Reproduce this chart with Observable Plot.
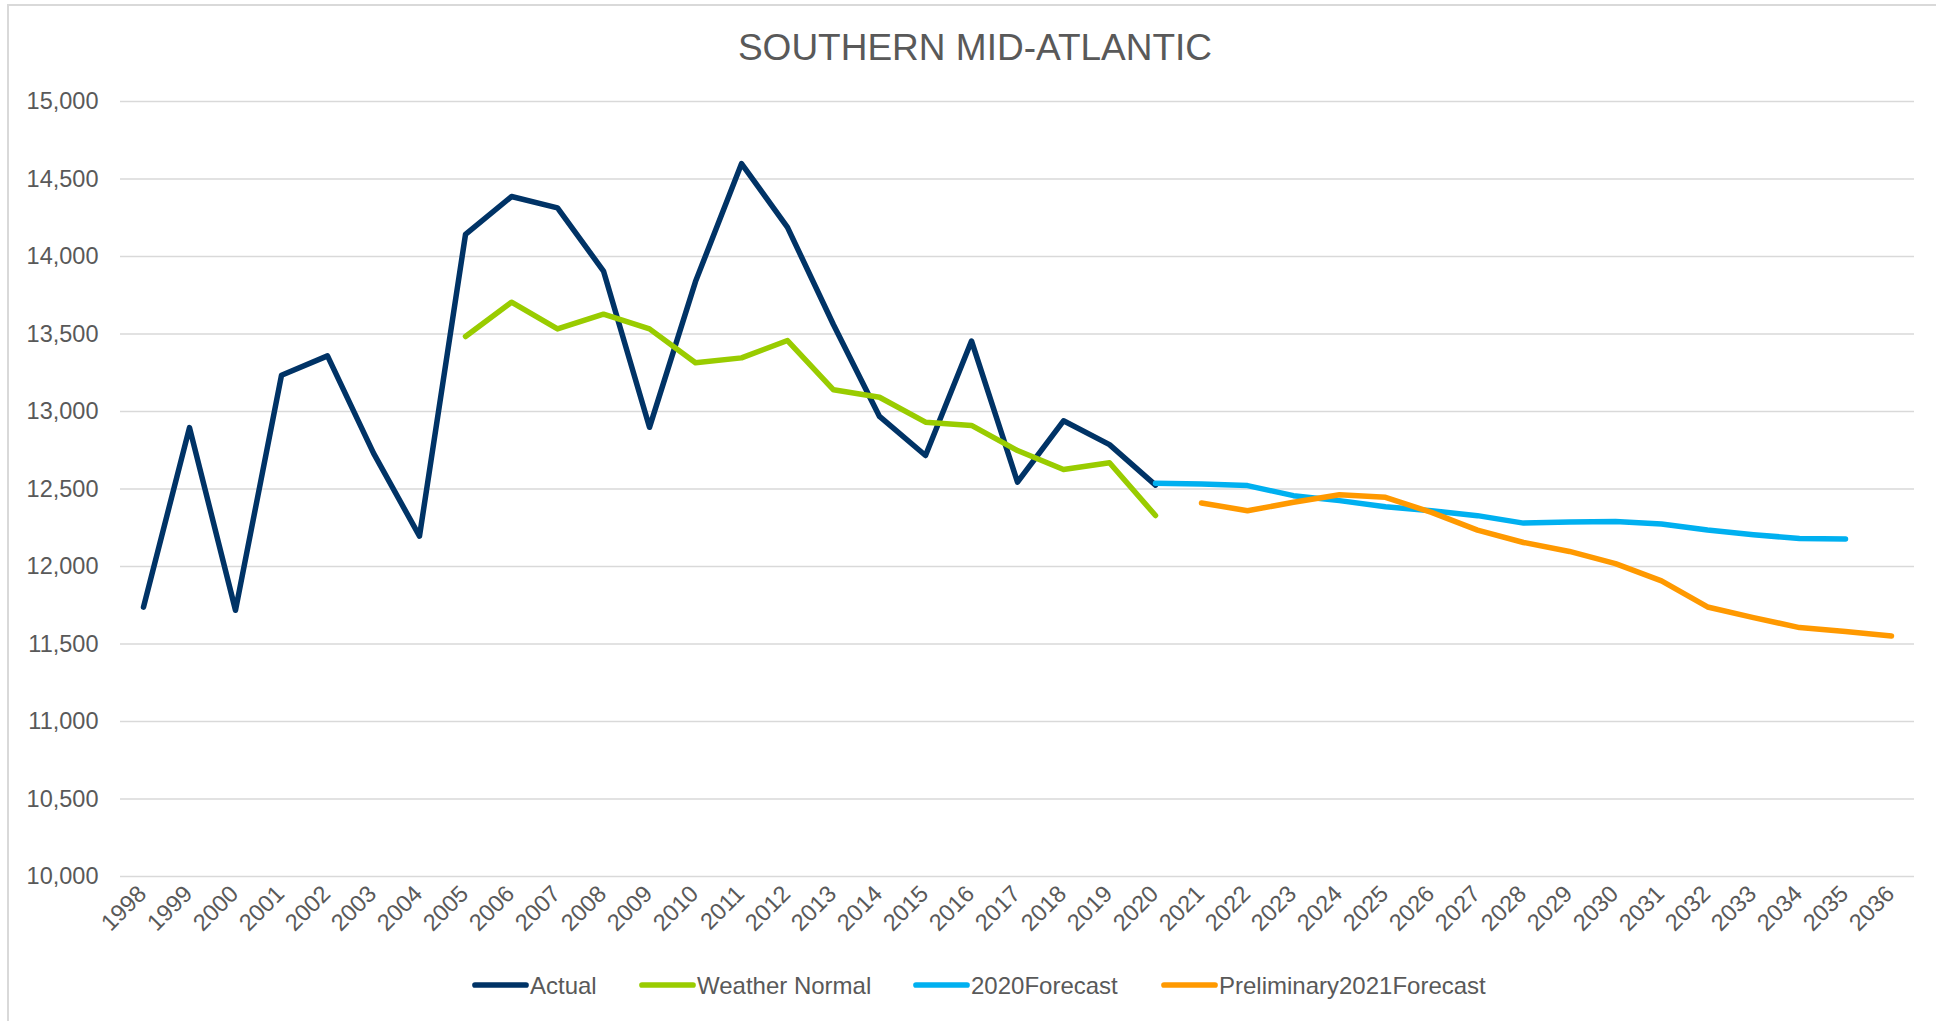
<!DOCTYPE html>
<html>
<head>
<meta charset="utf-8">
<script src="https://cdn.jsdelivr.net/npm/d3@7"></script>
<script src="https://cdn.jsdelivr.net/npm/@observablehq/plot@0.6"></script>
<style>
  html, body { margin: 0; padding: 0; background: #fff; }
  #wrap { position: relative; width: 1936px; height: 1021px; overflow: hidden; }
  #wrap > svg { position: absolute; left: 0; top: 0; }
</style>
</head>
<body>
<div id="wrap"></div>
<script>
const title = "SOUTHERN MID-ATLANTIC";
const years = ["1998","1999","2000","2001","2002","2003","2004","2005","2006","2007","2008","2009","2010","2011","2012","2013","2014","2015","2016","2017","2018","2019","2020","2021","2022","2023","2024","2025","2026","2027","2028","2029","2030","2031","2032","2033","2034","2035","2036"];
const yTicks = [10000,10500,11000,11500,12000,12500,13000,13500,14000,14500,15000];

const seriesNames = ["Actual", "Weather Normal", "2020Forecast", "Preliminary2021Forecast"];
const seriesColors = ["#003366", "#99CC00", "#00B0F0", "#FF9900"];

const actualYears = ["1998","1999","2000","2001","2002","2003","2004","2005","2006","2007","2008","2009","2010","2011","2012","2013","2014","2015","2016","2017","2018","2019","2020"];
const actualValues = [11738,12896,11718,13234,13359,12731,12196,14142,14387,14314,13906,12898,13838,14599,14188,13560,12968,12716,13455,12544,12940,12786,12525];

const normalYears = ["2005","2006","2007","2008","2009","2010","2011","2012","2013","2014","2015","2016","2017","2018","2019","2020"];
const normalValues = [13484,13705,13533,13628,13533,13314,13346,13458,13140,13092,12931,12910,12748,12626,12669,12329];

const fc2020Years = ["2020","2021","2022","2023","2024","2025","2026","2027","2028","2029","2030","2031","2032","2033","2034","2035"];
const fc2020Values = [12537,12532,12522,12457,12425,12386,12360,12328,12280,12287,12291,12274,12235,12205,12181,12177];

const fc2021Years = ["2021","2022","2023","2024","2025","2026","2027","2028","2029","2030","2031","2032","2033","2034","2035","2036"];
const fc2021Values = [12410,12360,12414,12463,12446,12349,12235,12155,12097,12019,11907,11739,11670,11606,11580,11552];

const table = [
  ...actualYears.map((y, i) => ({series: seriesNames[0], year: y, value: actualValues[i]})),
  ...normalYears.map((y, i) => ({series: seriesNames[1], year: y, value: normalValues[i]})),
  ...fc2020Years.map((y, i) => ({series: seriesNames[2], year: y, value: fc2020Values[i]})),
  ...fc2021Years.map((y, i) => ({series: seriesNames[3], year: y, value: fc2021Values[i]}))
];

const FONT = "'Liberation Sans', Arial, Helvetica, sans-serif";
const GRAY = "#595959";

const chart = Plot.plot({
  width: 1936,
  height: 1021,
  marginLeft: 120,
  marginRight: 22,
  marginTop: 101,
  marginBottom: 145,
  style: {fontFamily: FONT, fontSize: "23.5px", color: GRAY, background: "transparent", overflow: "visible"},
  x: {type: "point", domain: years, padding: 0.5, axis: null},
  y: {domain: [10000, 15000], axis: null},
  color: {domain: seriesNames, range: seriesColors},
  marks: [
    Plot.ruleY(yTicks, {stroke: "#D9D9D9", strokeWidth: 1.6}),
    Plot.axisY({ticks: yTicks, tickSize: 0, tickPadding: 22, tickFormat: d3.format(","), fontSize: 23.5, fill: GRAY, label: null}),
    Plot.text(years, {x: d => d, y: () => 10000, text: d => d, dy: 13.5, dx: -1, rotate: -45, textAnchor: "end", lineAnchor: "middle", fontSize: 23.5, fill: GRAY}),
    Plot.line(table, {x: "year", y: "value", z: "series", stroke: "series", strokeWidth: 5.5, strokeLinecap: "round", strokeLinejoin: "round"})
  ]
});

const wrap = document.getElementById("wrap");
wrap.appendChild(chart);

// overlay: border, title, legend
const ov = d3.select(wrap).append("svg")
  .attr("width", 1936).attr("height", 1021)
  .style("position", "absolute").style("left", "0px").style("top", "0px")
  .style("pointer-events", "none");

ov.append("rect")
  .attr("x", 8).attr("y", 5).attr("width", 1960).attr("height", 1040)
  .attr("fill", "none").attr("stroke", "#D9D9D9").attr("stroke-width", 2);

ov.append("text")
  .attr("x", 975).attr("y", 60)
  .attr("text-anchor", "middle")
  .attr("font-family", FONT).attr("font-size", 37)
  .attr("fill", GRAY)
  .text(title);

const legendX = [472, 639, 913, 1161];
const lg = ov.append("g");
seriesNames.forEach((name, i) => {
  const x0 = legendX[i];
  lg.append("line")
    .attr("x1", x0 + 3).attr("x2", x0 + 54)
    .attr("y1", 985).attr("y2", 985)
    .attr("stroke", seriesColors[i]).attr("stroke-width", 5.7)
    .attr("stroke-linecap", "round");
  lg.append("text")
    .attr("x", x0 + 58).attr("y", 993.5)
    .attr("font-family", FONT).attr("font-size", 24)
    .attr("fill", GRAY)
    .text(name);
});
</script>
</body>
</html>
